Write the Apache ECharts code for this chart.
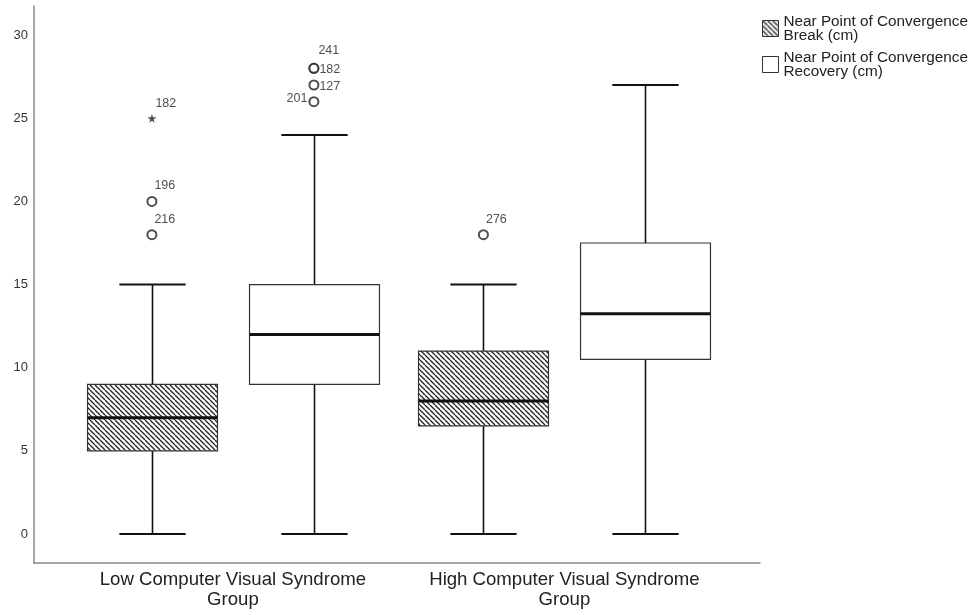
<!DOCTYPE html>
<html>
<head>
<meta charset="utf-8">
<script src="https://cdn.jsdelivr.net/npm/echarts@6/dist/echarts.min.js"></script>
<style>
html,body{margin:0;padding:0;background:#fff;}
#chart{width:970px;height:615px;}
</style>
</head>
<body>
<div id="chart"></div>
<script>
// ---- data ----
const groups = ['Low Computer Visual Syndrome\nGroup', 'High Computer Visual Syndrome\nGroup'];
const seriesNames = ['Near Point of Convergence\nBreak (cm)', 'Near Point of Convergence\nRecovery (cm)'];
// [min, Q1, median, Q3, max] per group
const breakStats = [[0, 5, 7, 9, 15], [0, 6.5, 8, 11, 15]];
const recoveryStats = [[0, 9, 12, 15, 24], [0, 10.5, 13.25, 17.5, 27]];
// [groupIndex, value, caseLabel, kind]
const breakOutliers = [[0, 18, '216', 'o'], [0, 20, '196', 'o'], [0, 25, '182', '*'], [1, 18, '276', 'o']];
const recoveryOutliers = [[0, 26, '201', 'o'], [0, 27, '127', 'o'], [0, 28, '182', 'o'], [0, 28, '241', 'o']];
const yTicks = [0, 5, 10, 15, 20, 25, 30];

// ---- layout constants ----
const FONT = '"Liberation Sans", Arial, sans-serif';
const OFFSET = 0.2443;  // box offset from group centre (axis units)
const BOXW = 0.392;     // box width (axis units)
const CAPW = 0.2;       // whisker cap width (axis units)
// label placement for outliers (by label), default above-right
const labelPlacement = {
  'rec-201': {position: [-1, 2], align: 'right'},
  'rec-127': {position: [11, 7], align: 'left'},
  'rec-182': {position: [11, 7], align: 'left'},
  'rec-241': {position: [10, -12], align: 'left'}
};

function hatchPattern() {
  const s = 5;
  const c = document.createElement('canvas');
  c.width = s; c.height = s;
  const ctx = c.getContext('2d');
  ctx.fillStyle = '#fff';
  ctx.fillRect(0, 0, s, s);
  ctx.strokeStyle = '#222';
  ctx.lineWidth = 1.3;
  for (let k = -1; k <= 1; k++) {
    ctx.beginPath();
    ctx.moveTo(k * s, 0);
    ctx.lineTo(k * s + s, s);
    ctx.stroke();
  }
  return {image: c, repeat: 'repeat'};
}
const hatch = hatchPattern();

function boxRenderer(offset, fill) {
  return function (params, api) {
    const g = api.value(0);
    const xc = g + 1 + offset;
    const cx = Math.round(api.coord([xc, 0])[0]) + 0.5;
    const hw = api.size([BOXW / 2, 0])[0];
    const cw = api.size([CAPW / 2, 0])[0];
    const y = i => api.coord([xc, api.value(i)])[1];
    const yMin = y(1), yQ1 = y(2), yMed = y(3), yQ3 = y(4), yMax = y(5);
    const lineStyle = w => ({stroke: '#111', lineWidth: w});
    return {
      type: 'group',
      children: [
        {type: 'line', shape: {x1: cx, y1: yQ1, x2: cx, y2: yMin}, style: lineStyle(1.6)},
        {type: 'line', shape: {x1: cx, y1: yQ3, x2: cx, y2: yMax}, style: lineStyle(1.6)},
        {type: 'line', shape: {x1: cx - cw, y1: yMin, x2: cx + cw, y2: yMin}, style: lineStyle(2)},
        {type: 'line', shape: {x1: cx - cw, y1: yMax, x2: cx + cw, y2: yMax}, style: lineStyle(2)},
        {type: 'rect', shape: {x: cx - hw, y: yQ3, width: 2 * hw, height: yQ1 - yQ3},
          style: {fill: fill, stroke: '#333', lineWidth: 1.2}},
        {type: 'line', shape: {x1: cx - hw, y1: yMed, x2: cx + hw, y2: yMed}, style: lineStyle(3)}
      ]
    };
  };
}

const starPath = 'path://M50,0 L61,35 L98,35 L68,57 L79,91 L50,70 L21,91 L32,57 L2,35 L39,35 Z';

function outlierData(list, offset, key) {
  return list.map(o => {
    const place = labelPlacement[key + '-' + o[2]] || {position: [8, -10], align: 'left'};
    const item = {
      value: [o[0] + 1 + offset, o[1]],
      label: {show: true, formatter: o[2], position: place.position, align: place.align,
        verticalAlign: 'middle', fontSize: 12.5, color: '#222', fontFamily: FONT}
    };
    if (o[3] === '*') {
      item.symbol = starPath;
      item.symbolSize = 9;
      item.itemStyle = {color: '#222', borderWidth: 0};
    }
    return item;
  });
}

const chart = echarts.init(document.getElementById('chart'));
chart.setOption({
  backgroundColor: '#fff',
  animation: false,
  textStyle: {fontFamily: FONT},
  grid: {left: 34, right: 210, top: 6, bottom: 52},
  legend: {
    orient: 'vertical', left: 757, top: 9, itemWidth: 16, itemHeight: 16, itemGap: 7,
    selectedMode: false, icon: 'rect',
    textStyle: {fontSize: 15.3, lineHeight: 14, color: '#222', fontFamily: FONT},
    data: [
      {name: seriesNames[0], itemStyle: {color: hatch, borderColor: '#333', borderWidth: 1}},
      {name: seriesNames[1], itemStyle: {color: '#fff', borderColor: '#333', borderWidth: 1}}
    ]
  },
  xAxis: {
    type: 'value', min: 0.4, max: 2.59,
    splitLine: {show: false}, axisTick: {show: false},
    axisLine: {show: true, onZero: false, lineStyle: {color: '#888', width: 1.5}},
    axisLabel: {
      customValues: [1, 2], margin: 7, fontSize: 18.6, lineHeight: 20, color: '#222', fontFamily: FONT,
      formatter: v => groups[Math.round(v) - 1] || ''
    }
  },
  yAxis: {
    type: 'value', min: -1.74, max: 31.75,
    splitLine: {show: false}, axisTick: {show: false},
    axisLine: {show: true, onZero: false, lineStyle: {color: '#888', width: 1.5}},
    axisLabel: {customValues: yTicks, margin: 6, fontSize: 13, color: '#333', fontFamily: FONT}
  },
  series: [
    {
      name: seriesNames[0], type: 'custom', renderItem: boxRenderer(-OFFSET, hatch),
      itemStyle: {color: hatch, borderColor: '#333', borderWidth: 1},
      data: breakStats.map((s, i) => [i].concat(s)),
      encode: {x: 0, y: [1, 2, 3, 4, 5]}
    },
    {
      name: seriesNames[1], type: 'custom', renderItem: boxRenderer(OFFSET, '#fff'),
      itemStyle: {color: '#fff', borderColor: '#333', borderWidth: 1},
      data: recoveryStats.map((s, i) => [i].concat(s)),
      encode: {x: 0, y: [1, 2, 3, 4, 5]}
    },
    {
      name: 'breakOut', type: 'scatter', symbol: 'emptyCircle', symbolSize: 9,
      itemStyle: {color: '#222', borderColor: '#222', borderWidth: 1.1},
      data: outlierData(breakOutliers, -OFFSET, 'brk')
    },
    {
      name: 'recOut', type: 'scatter', symbol: 'emptyCircle', symbolSize: 9,
      itemStyle: {color: '#222', borderColor: '#222', borderWidth: 1.1},
      data: outlierData(recoveryOutliers, OFFSET, 'rec')
    }
  ]
});
</script>
</body>
</html>
